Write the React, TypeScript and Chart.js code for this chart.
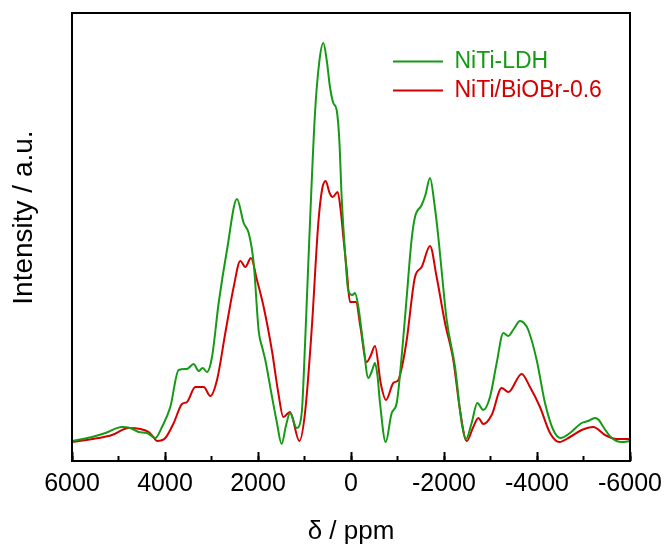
import React, { useEffect, useRef } from "react";
import { Chart, registerables } from "chart.js";

Chart.register(...registerables);

// x values: chemical shift δ (ppm); y values: intensity (a.u.)
const greenPpm = [
  6000, 5570, 5280, 4925, 4746, 4566, 4387, 4208, 4065, 3886, 3706, 3527, 3384, 3276, 3190, 3097,
  2989, 2846, 2667, 2452, 2308, 2200, 2093, 1985, 1900, 1843, 1706, 1600, 1491, 1400, 1312, 1168,
  1060, 990, 918, 774, 680, 595, 520, 452, 380, 308, 250, 201, 130, 57, -30, -86, -158, -260,
  -373, -450, -516, -570, -624, -746, -875, -983, -1100, -1198, -1300, -1376, -1520, -1600, -1699,
  -1800, -1878, -1960, -2058, -2237, -2380, -2473, -2595, -2716, -2845, -2989, -3133, -3276, -3384,
  -3500, -3634, -3720, -3813, -3993, -4172, -4351, -4509, -4710, -4961, -5100, -5247, -5330, -5426,
  -5606, -5821, -6000,
];
const greenInt = [
  20, 24, 28, 34, 33, 29, 28, 23, 34, 54, 91, 92, 97, 90, 93, 89,
  104, 158, 211, 262, 238, 228, 198, 130, 112, 101, 66, 40, 17, 35, 48, 33,
  48, 115, 198, 348, 400, 418, 400, 374, 358, 351, 320, 264, 210, 170, 166, 168, 154, 118,
  83, 90, 98, 85, 58, 19, 48, 58, 110, 164, 220, 244, 256, 266, 283,
  255, 224, 185, 141, 94, 38, 22, 38, 58, 51, 64, 98, 128, 125,
  132, 140, 138, 131, 101, 58, 31, 23, 28, 38, 40, 43, 41, 34,
  23, 19, 20,
];

const redPpm = [
  6000, 5426, 5140, 4781, 4531, 4351, 4250, 4172, 3993, 3813, 3634, 3527, 3348, 3168, 3025, 2882,
  2703, 2523, 2380, 2273, 2151, 2022, 1878, 1699, 1563, 1456, 1312, 1111, 989, 846, 703, 620, 545,
  460, 394, 287, 220, 165, 90, 22, -107, -200, -337, -420, -516, -638, -753, -910, -1018, -1100,
  -1198, -1376, -1520, -1699, -1842, -2022, -2200, -2344, -2488, -2630, -2738, -2845, -3025, -3240,
  -3384, -3670, -3849, -4064, -4280, -4480, -4710, -4961, -5211, -5462, -5713, -6000,
];
const redInt = [
  19, 23, 26, 33, 32, 29, 24, 20, 23, 38, 57, 59, 74, 74, 65, 81,
  128, 174, 200, 194, 203, 181, 154, 110, 68, 44, 49, 20, 48, 131, 238, 272, 280,
  268, 264, 269, 250, 224, 190, 159, 159, 135, 99, 105, 115, 78, 61, 78, 81, 95,
  121, 184, 194, 215, 184, 138, 101, 51, 20, 34, 43, 37, 46, 73,
  69, 87, 74, 54, 28, 19, 24, 31, 34, 26, 22, 22,
];

const seriesNames = ["NiTi-LDH", "NiTi/BiOBr-0.6"];
const seriesColors = ["#159a15", "#d40000"];
const xMin = -6000;
const xMax = 6000;
const majorStep = 2000;
const minorStep = 1000;
const xTitle = "δ / ppm";
const yTitle = "Intensity / a.u.";

const FONT = "'Liberation Sans', Arial, Helvetica, sans-serif";

const framePlugin = {
  id: "frame",
  afterDatasetsDraw(chart: any) {
    const { ctx, chartArea } = chart;
    const { left, top, right, bottom } = chartArea;
    ctx.save();
    ctx.strokeStyle = "#000";
    ctx.lineWidth = 2;
    ctx.strokeRect(left, top, right - left, bottom - top);
    ctx.restore();
  },
};

const legendPlacer = {
  id: "legendPlacer",
  afterLayout(chart: any) {
    const lg = chart.legend;
    if (!lg) return;
    lg.left = 387;
    lg.top = 44;
  },
};

export default function App() {
  const ref = useRef<HTMLCanvasElement | null>(null);

  useEffect(() => {
    if (!ref.current) return;
    const toPts = (xs: number[], ys: number[]) => xs.map((x, i) => ({ x, y: ys[i] }));
    const chart = new Chart(ref.current, {
      type: "line",
      data: {
        datasets: [
          {
            label: seriesNames[0],
            data: toPts(greenPpm, greenInt),
            borderColor: seriesColors[0],
            backgroundColor: seriesColors[0],
            borderWidth: 2,
            pointRadius: 0,
            cubicInterpolationMode: "monotone",
            fill: false,
            xAxisID: "x",
            yAxisID: "y",
          },
          {
            label: seriesNames[1],
            data: toPts(redPpm, redInt),
            borderColor: seriesColors[1],
            backgroundColor: seriesColors[1],
            borderWidth: 2,
            pointRadius: 0,
            cubicInterpolationMode: "monotone",
            fill: false,
            xAxisID: "x",
            yAxisID: "y",
          },
        ] as any,
      },
      options: {
        animation: false,
        responsive: false,
        maintainAspectRatio: false,
        devicePixelRatio: 1,
        events: [],
        layout: { padding: { top: 13, right: 36, left: 0, bottom: 0 } },
        plugins: {
          tooltip: { enabled: false },
          legend: {
            display: true,
            position: "chartArea" as any,
            align: "start",
            labels: {
              usePointStyle: true,
              pointStyle: "line",
              pointStyleWidth: 50,
              padding: 6,
              font: { family: FONT, size: 23 },
              generateLabels(chart: any) {
                const base = Chart.defaults.plugins.legend.labels.generateLabels(chart);
                return base.map((l: any) => ({ ...l, fontColor: l.strokeStyle, lineWidth: 2 }));
              },
            },
          },
        },
        scales: {
          x: {
            type: "linear",
            position: "bottom",
            min: xMin,
            max: xMax,
            reverse: true,
            weight: 0,
            border: { display: false },
            grid: {
              display: true,
              drawOnChartArea: false,
              drawTicks: true,
              tickLength: -9,
              tickWidth: 2,
              tickColor: "#000",
              color: "#000",
            },
            ticks: {
              stepSize: majorStep,
              color: "#000",
              font: { family: FONT, size: 25 },
              padding: 17,
              maxRotation: 0,
              autoSkip: false,
              callback: (v: any) => String(v),
            },
            title: {
              display: true,
              text: xTitle,
              color: "#000",
              font: { family: FONT, size: 26, lineHeight: 1.0 },
              padding: { top: 0, bottom: 0 },
            },
            afterFit(s: any) {
              s.height = 84;
              s.paddingLeft = 0;
              s.paddingRight = 0;
            },
          },
          xMinor: {
            type: "linear",
            axis: "x",
            position: "bottom",
            min: xMin,
            max: xMax,
            reverse: true,
            weight: -1,
            border: { display: false },
            grid: {
              display: true,
              drawOnChartArea: false,
              drawTicks: true,
              tickLength: -5,
              tickWidth: 2,
              tickColor: "#000",
              color: "#000",
            },
            ticks: { stepSize: minorStep, display: false },
            afterFit(s: any) {
              s.height = 0;
              s.paddingLeft = 0;
              s.paddingRight = 0;
            },
          },
          y: {
            type: "linear",
            position: "left",
            min: 0,
            max: 448,
            border: { display: false },
            grid: { display: false, drawTicks: false },
            ticks: { display: false },
            title: {
              display: true,
              text: "     " + yTitle,
              color: "#000",
              font: { family: FONT, size: 28 },
              padding: { top: 7, bottom: 0 },
            },
            afterFit(s: any) {
              s.width = 72;
              s.paddingTop = 0;
              s.paddingBottom = 0;
            },
          },
        } as any,
      },
      plugins: [framePlugin, legendPlacer],
    });
    return () => chart.destroy();
  }, []);

  return (
    <div style={{ position: "fixed", left: 0, top: 0, width: 666, height: 545, background: "#fff" }}>
      <canvas ref={ref} width={666} height={545} style={{ width: 666, height: 545, display: "block" }} />
    </div>
  );
}
